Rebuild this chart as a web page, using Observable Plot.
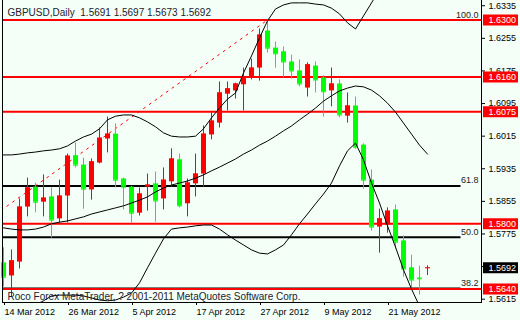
<!DOCTYPE html>
<html><head><meta charset="utf-8">
<script src="https://cdn.jsdelivr.net/npm/d3@7"></script>
<script src="https://cdn.jsdelivr.net/npm/@observablehq/plot@0.6"></script>
<style>
html,body{margin:0;padding:0;background:#F4FFF8;}
#chart{width:520px;height:320px;}
</style></head><body><div id="chart"></div>
<script>
const symbolName = "GBPUSD", period = "Daily";
const openP  = [1.5704,1.5672,1.5706,1.5841,1.5890,1.5853,1.5866,1.5812,1.5868,1.5967,1.5944,1.5883,1.5949,1.6008,1.6020,1.5910,1.5890,1.5826,1.5890,1.5898,1.5861,1.5903,1.5957,1.5849,1.5898,1.5922,1.6018,1.6047,1.6118,1.6126,1.6141,1.6158,1.6182,1.6273,1.6231,1.6222,1.6197,1.6175,1.6133,1.6187,1.6158,1.6126,1.6143,1.6064,1.6089,1.5993,1.5907,1.5792,1.5797,1.5834,1.5758,1.5692,1.5667,1.5691];
const highP  = [1.5741,1.5736,1.5861,1.5912,1.5900,1.5920,1.5888,1.5907,1.5971,1.5998,1.5961,1.5959,1.6035,1.6062,1.6045,1.5912,1.5892,1.5888,1.5922,1.5927,1.5937,1.5984,1.5971,1.5910,1.5971,1.6040,1.6072,1.6148,1.6148,1.6145,1.6182,1.6204,1.6278,1.6300,1.6246,1.6234,1.6214,1.6202,1.6195,1.6197,1.6163,1.6182,1.6153,1.6121,1.6111,1.5996,1.5932,1.5836,1.5839,1.5846,1.5770,1.5723,1.5696,1.5697];
const lowP   = [1.5645,1.5620,1.5689,1.5817,1.5827,1.5817,1.5765,1.5802,1.5802,1.5937,1.5836,1.5858,1.5947,1.5974,1.5888,1.5834,1.5802,1.5819,1.5831,1.5804,1.5834,1.5890,1.5839,1.5817,1.5866,1.5890,1.6006,1.6035,1.6077,1.6106,1.6077,1.6153,1.6150,1.6219,1.6182,1.6158,1.6155,1.6136,1.6111,1.6121,1.6062,1.6087,1.6060,1.6047,1.5983,1.5885,1.5782,1.5728,1.5777,1.5738,1.5669,1.5638,1.5625,1.5673];
const closeP = [1.5669,1.5709,1.5841,1.5888,1.5853,1.5863,1.5809,1.5868,1.5966,1.5944,1.5885,1.5952,1.6010,1.6020,1.5907,1.5890,1.5826,1.5873,1.5895,1.5856,1.5907,1.5959,1.5844,1.5900,1.5922,1.6020,1.6052,1.6121,1.6131,1.6143,1.6160,1.6182,1.6263,1.6231,1.6217,1.6197,1.6175,1.6143,1.6190,1.6153,1.6124,1.6143,1.6067,1.6089,1.5988,1.5907,1.5792,1.5812,1.5831,1.5755,1.5689,1.5662,1.5665,1.5692];

const bbUpper  = [1.5969,1.5969,1.5971,1.5974,1.5976,1.5979,1.5981,1.5984,1.5991,1.6003,1.6013,1.6020,1.6033,1.6055,1.6064,1.6067,1.6067,1.6060,1.6050,1.6038,1.6023,1.6015,1.6013,1.6013,1.6015,1.6033,1.6060,1.6084,1.6106,1.6121,1.6170,1.6212,1.6256,1.6298,1.6327,1.6337,1.6342,1.6342,1.6342,1.6339,1.6337,1.6329,1.6315,1.6293,1.6278,1.6310,1.6342,1.6374,null,null,null,null,null,null];
const bbMiddle = [1.5790,1.5787,1.5785,1.5785,1.5787,1.5792,1.5800,1.5804,1.5807,1.5812,1.5817,1.5824,1.5829,1.5834,1.5839,1.5844,1.5851,1.5858,1.5866,1.5878,1.5888,1.5895,1.5900,1.5905,1.5912,1.5920,1.5930,1.5939,1.5949,1.5959,1.5971,1.5981,1.5993,1.6003,1.6015,1.6028,1.6040,1.6055,1.6069,1.6084,1.6101,1.6114,1.6126,1.6133,1.6138,1.6136,1.6128,1.6114,1.6096,1.6074,1.6047,1.6020,1.5993,1.5971];
const bbLower  = [null,null,null,null,1.5601,1.5611,1.5623,1.5625,1.5625,1.5625,1.5623,1.5618,1.5613,1.5611,1.5613,1.5620,1.5630,1.5655,1.5692,1.5728,1.5763,1.5787,1.5790,1.5792,1.5795,1.5797,1.5797,1.5787,1.5773,1.5760,1.5748,1.5736,1.5728,1.5726,1.5736,1.5748,1.5773,1.5800,1.5824,1.5849,1.5873,1.5900,1.5942,1.5979,1.5998,1.5957,1.5900,1.5851,1.5795,1.5743,1.5687,1.5640,1.5598,null];

const dateTickBars   = [0, 8, 16, 24, 32, 40, 48];
const dateTickLabels = ["14 Mar 2012","26 Mar 2012","5 Apr 2012","17 Apr 2012","27 Apr 2012","9 May 2012","21 May 2012"];
const priceTicks = [1.6335,1.6255,1.6175,1.6095,1.6015,1.5935,1.5855,1.5775,1.5695,1.5615];
const hLines = [1.6300,1.6160,1.6075,1.5800,1.5640];
const fibAnchors = [{bar:-43, price:1.5234},{bar:33, price:1.6300}];
const fibRatios = [1.0, 0.618, 0.5, 0.382];
const fibLabels = ["100.0","61.8","50.0","38.2"];
const copyright = "Roco Forex MetaTrader, ? 2001-2011 MetaQuotes Software Corp.";

const bg = "#F4FFF8";
const UP = "#ff0000", DOWN = "#00ff00";
const last = openP.length - 1;
const fmt = d => d.toFixed(4);
const header = `${symbolName},${period}  ${fmt(openP[last])} ${fmt(highP[last])} ${fmt(lowP[last])} ${fmt(closeP[last])}`;

const bars = openP.map((o,i)=>({i, open:o, high:highP[i], low:lowP[i], close:closeP[i], color: closeP[i] > o ? UP : DOWN}));
const bands = bbMiddle.map((m,i)=>({i, upper: bbUpper[i], middle: m, lower: bbLower[i]}));
const fibLo = fibAnchors[0].price, fibHi = fibAnchors[1].price;
const fibs = fibRatios.map((r,k)=>({price: fibLo + r*(fibHi-fibLo), label: fibLabels[k]}));
const current = [closeP[last]];

const boxSym = {draw(ctx){ ctx.rect(-17.5,-5.5,35,11); }};
const fibBgSym = {draw(ctx){ ctx.rect(-21,-10,21,12); }};
const dojiSym = {draw(ctx){ ctx.rect(-2.5,-0.5,5,1); }};

const chart = Plot.plot({
  width:520, height:320, marginLeft:2, marginRight:39, marginTop:0, marginBottom:18,
  style:{background:bg, fontFamily:"'Liberation Sans', Arial, sans-serif", fontSize:"9px", color:"#000"},
  x:{type:"linear", domain:[0,53], range:[3,427], axis:null},
  y:{type:"linear", domain:[1.5640,1.6300], range:[288.5,19.5], axis:null},
  marks:[
    Plot.ruleY(fibs, {y:"price", stroke:"#000", strokeWidth:2}),
    Plot.dot(fibs, {y:"price", frameAnchor:"right", symbol:fibBgSym, fill:bg, stroke:null}),
    Plot.text(fibs, {y:"price", text:"label", frameAnchor:"right", dx:-3, dy:-2.5, textAnchor:"end", lineAnchor:"bottom", fontSize:9, fill:"#222"}),
    Plot.line(fibAnchors, {x:"bar", y:"price", stroke:UP, strokeWidth:1, strokeDasharray:"2,5", clip:true}),
    Plot.ruleY(hLines, {stroke:UP, strokeWidth:2}),
    Plot.ruleX(bars, {x:"i", y1:"low", y2:"high", stroke:"color", strokeWidth:1}),
    Plot.ruleX(bars, {x:"i", y1:"open", y2:"close", stroke:"color", strokeWidth:5}),
    Plot.dot(bars, {x:"i", y:"close", symbol:dojiSym, fill:"color", stroke:null}),
    Plot.line(bands, {x:"i", y:"upper", stroke:"#000", strokeWidth:1, clip:true}),
    Plot.line(bands, {x:"i", y:"middle", stroke:"#000", strokeWidth:1, clip:true}),
    Plot.line(bands, {x:"i", y:"lower", stroke:"#000", strokeWidth:1, clip:true}),
    Plot.frame({anchor:"left"}),
    Plot.frame({anchor:"right"}),
    Plot.frame({anchor:"bottom"}),
    Plot.axisX({ticks:dateTickBars, tickFormat:d=>dateTickLabels[dateTickBars.indexOf(d)], tickSize:3, tickPadding:3, textAnchor:"start", dx:1, fontSize:9, fill:"#000"}),
    Plot.axisY({anchor:"right", ticks:priceTicks, tickFormat:fmt, tickSize:3, tickPadding:4, fontSize:9, fill:"#000"}),
    Plot.dot(hLines, {y:d=>d, frameAnchor:"right", dx:19, symbol:boxSym, fill:UP, stroke:null}),
    Plot.text(hLines, {y:d=>d, text:fmt, frameAnchor:"right", dx:7, textAnchor:"start", fill:"#fff", fontSize:9}),
    Plot.dot(current, {y:d=>d, frameAnchor:"right", dx:19, symbol:boxSym, fill:"#000", stroke:null}),
    Plot.text(current, {y:d=>d, text:fmt, frameAnchor:"right", dx:7, textAnchor:"start", fill:"#fff", fontSize:9}),
    Plot.text([header], {text:d=>d, frameAnchor:"top-left", dx:5, dy:15, textAnchor:"start", lineAnchor:"bottom", fontSize:10, fill:"#1c2230"}),
    Plot.text([copyright], {text:d=>d, frameAnchor:"bottom-left", dx:5, dy:-3, textAnchor:"start", lineAnchor:"bottom", fontSize:10, fill:"#1c2230"})
  ]
});
document.getElementById("chart").appendChild(chart);
</script></body></html>
